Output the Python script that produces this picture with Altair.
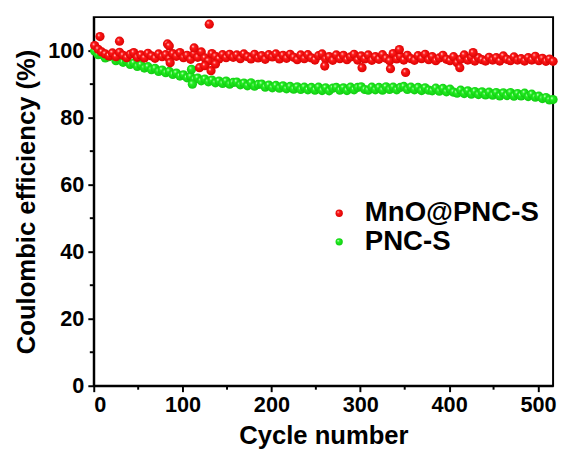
import altair as alt
import pandas as pd

# ---------------- data ----------------
cycles = list(range(1, 521, 4))  # 130 sampled cycles

mno_ce = [
    101.5, 100.4, 99.6, 99.0, 98.4, 99.3, 98.2, 99.5, 98.6, 97.9,
    98.9, 99.4, 98.0, 98.7, 97.8, 99.2, 98.4, 97.7, 99.0, 98.2,
    98.8, 97.6, 99.1, 98.3, 99.4, 97.9, 98.6, 97.4, 99.0, 98.0,
    99.6, 97.8, 96.9, 99.1, 98.3, 97.5, 98.8, 97.9, 98.9, 98.0,
    98.7, 97.6, 99.0, 98.2, 97.5, 98.9, 97.8, 98.5, 97.4, 98.8,
    98.1, 99.0, 97.5, 98.6, 97.7, 98.9, 98.0, 97.3, 98.7, 97.6,
    98.8, 97.8, 97.2, 98.5, 99.0, 97.5, 98.2, 97.1, 98.7, 97.6,
    98.6, 97.3, 98.1, 98.9, 97.2, 98.4, 97.5, 98.7, 97.1, 98.2,
    97.4, 98.8, 97.7, 97.0, 99.1, 97.5, 98.3, 97.2, 98.6, 97.6,
    97.1, 98.5, 97.6, 98.9, 97.3, 98.2, 97.0, 97.8, 98.6, 97.4,
    97.0, 98.2, 96.4, 97.4, 98.7, 97.2, 98.0, 96.9, 97.9, 97.3,
    96.9, 98.0, 97.2, 97.9, 96.9, 98.4, 97.4, 97.0, 98.1, 97.2,
    97.6, 96.9, 97.9, 97.2, 98.3, 97.0, 97.7, 96.8, 97.5, 96.8,
]
mno_extra_cycles = [7, 29, 83, 85, 113, 130, 86, 119, 125, 132, 137, 260, 302, 334, 344, 351, 412, 427]
mno_extra_ce = [104.2, 102.8, 102.0, 101.4, 100.8, 107.9, 96.4, 94.9, 95.5, 94.0, 96.0, 95.4, 94.9, 94.6, 100.3, 93.5, 94.9, 99.4]

pnc_ce = [
    99.9, 98.8, 98.9, 97.8, 98.2, 98.6, 97.0, 97.4, 96.5, 96.9,
    95.9, 96.3, 95.3, 95.8, 94.8, 95.2, 94.3, 94.7, 93.8, 94.2,
    93.4, 93.8, 92.9, 93.3, 92.4, 92.8, 91.9, 92.3, 91.4, 91.8,
    91.0, 91.5, 90.7, 91.2, 90.4, 90.9, 90.2, 90.9, 90.0, 90.5,
    90.6, 89.8, 90.3, 89.5, 90.4, 89.4, 89.9, 90.0, 89.1, 89.7,
    88.9, 89.6, 88.8, 89.5, 88.6, 89.3, 88.5, 89.2, 88.4, 89.1,
    88.3, 89.0, 88.2, 89.1, 88.1, 88.9, 88.0, 88.8, 89.0, 88.2,
    88.9, 88.1, 89.1, 88.3, 89.0, 89.2, 88.4, 88.2, 89.1, 88.3,
    89.0, 88.2, 89.2, 88.4, 89.1, 88.3, 89.0, 89.3, 88.4, 89.1,
    88.3, 89.0, 88.1, 88.9, 88.2, 88.0, 88.8, 87.9, 88.7, 87.7,
    88.5, 87.6, 87.3, 88.2, 87.2, 88.0, 87.0, 87.8, 86.9, 87.7,
    86.8, 87.6, 86.7, 87.5, 86.5, 87.4, 86.6, 87.5, 86.4, 87.2,
    86.5, 87.3, 86.3, 87.0, 86.1, 86.4, 85.7, 86.0, 85.3, 85.4,
]
pnc_extra_cycles = [27, 110, 111]
pnc_extra_ce = [98.4, 94.4, 90.0]

series_names = ["MnO@PNC-S", "PNC-S"]
x_ticks = [0, 100, 200, 300, 400, 500]
x_minor = [50, 150, 250, 350, 450]
y_ticks = [0, 20, 40, 60, 80, 100]
y_minor = [10, 30, 50, 70, 90]

# ---------------- build ----------------
W, H = 466, 374
FONT = "Liberation Sans"

mno_df = pd.DataFrame({"cycle": cycles + mno_extra_cycles, "ce": mno_ce + mno_extra_ce})
pnc_df = pd.DataFrame({"cycle": cycles + pnc_extra_cycles, "ce": pnc_ce + pnc_extra_ce})


def sphere(base, dark):
    return {
        "gradient": "radial",
        "x1": 0.35, "y1": 0.32, "r1": 0.0,
        "x2": 0.5, "y2": 0.5, "r2": 0.55,
        "stops": [
            {"offset": 0.0, "color": "#ffffff"},
            {"offset": 0.28, "color": base},
            {"offset": 1.0, "color": dark},
        ],
    }


red_fill = sphere("#ff1a1a", "#d80000")
green_fill = sphere("#22f022", "#10c810")

xscale = alt.Scale(domain=[0, 517], nice=False)
yscale = alt.Scale(domain=[0, 110], nice=False)

xaxis = alt.Axis(values=x_ticks, title="Cycle number", titlePadding=8, labelPadding=3)
yaxis = alt.Axis(values=y_ticks, title="Coulombic efficiency (%)", titlePadding=8, labelPadding=4)

pnc_layer = alt.Chart(pnc_df).mark_circle(size=88, fill=green_fill, opacity=1, strokeWidth=0).encode(
    x=alt.X("cycle:Q", scale=xscale, axis=xaxis),
    y=alt.Y("ce:Q", scale=yscale, axis=yaxis),
)
mno_layer = alt.Chart(mno_df).mark_circle(size=88, fill=red_fill, opacity=1, strokeWidth=0).encode(
    x=alt.X("cycle:Q", scale=xscale),
    y=alt.Y("ce:Q", scale=yscale),
)

xminor = alt.Chart(pd.DataFrame({"v": x_minor})).mark_rule(color="black", strokeWidth=2).encode(
    x=alt.X("v:Q", scale=xscale), y=alt.value(H), y2=alt.value(H + 4)
)
yminor = alt.Chart(pd.DataFrame({"v": y_minor})).mark_rule(color="black", strokeWidth=2).encode(
    y=alt.Y("v:Q", scale=yscale), x=alt.value(-4), x2=alt.value(0)
)

leg_df = pd.DataFrame({"name": series_names})
leg_red_dot = alt.Chart(leg_df).transform_filter(alt.datum.name == series_names[0]).mark_circle(
    size=55, fill=red_fill, opacity=1
).encode(x=alt.value(249), y=alt.value(199))
leg_green_dot = alt.Chart(leg_df).transform_filter(alt.datum.name == series_names[1]).mark_circle(
    size=55, fill=green_fill, opacity=1
).encode(x=alt.value(249), y=alt.value(228))
leg_red_txt = alt.Chart(leg_df).transform_filter(alt.datum.name == series_names[0]).mark_text(
    align="left", baseline="middle", font=FONT, fontWeight="bold", fontSize=28, color="black"
).encode(x=alt.value(275), y=alt.value(199), text="name:N")
leg_green_txt = alt.Chart(leg_df).transform_filter(alt.datum.name == series_names[1]).mark_text(
    align="left", baseline="middle", font=FONT, fontWeight="bold", fontSize=28, color="black"
).encode(x=alt.value(275), y=alt.value(228), text="name:N")

chart = alt.layer(
    pnc_layer, mno_layer, xminor, yminor,
    leg_red_dot, leg_green_dot, leg_red_txt, leg_green_txt,
).properties(
    width=W, height=H,
    autosize=alt.AutoSizeParams(type="none"),
    padding={"left": 87, "top": 6, "right": 5, "bottom": 66},
).configure_view(
    stroke="black", strokeWidth=2
).configure_axis(
    grid=False,
    domainColor="black", domainWidth=2,
    tickColor="black", tickWidth=2, tickSize=6,
    labelFont=FONT, labelFontWeight="bold", labelFontSize=22, labelColor="black",
    titleFont=FONT, titleFontWeight="bold", titleFontSize=26, titleColor="black",
)

chart.save("out.html", embed_options={"renderer": "svg", "actions": False})
